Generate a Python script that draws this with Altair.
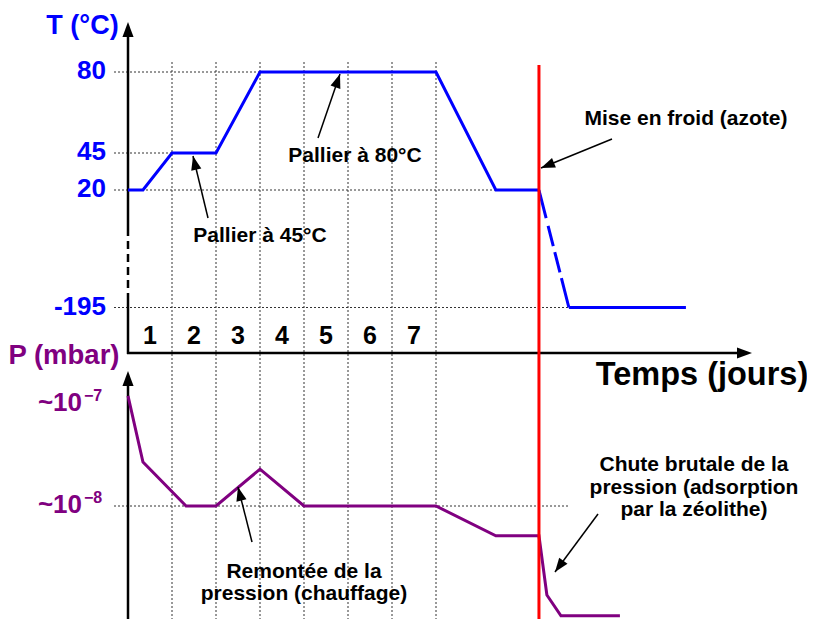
import math
import altair as alt
import pandas as pd

# ------------------------------------------------------------------ data
# Temperature (°C) versus time (days)
t_days = [0, 0.34, 1, 2, 3, 7, 8.36, 9.34]
t_vals = [20, 20, 45, 45, 80, 80, 20, 20]
t_cool_days = [9.34, 10.02]          # nitrogen cooling (dashed)
t_cool_vals = [20, -195]
t_cold_days = [10.02, 12.68]
t_cold_vals = [-195, -195]

# Pressure (mbar) versus time (days)
p_days = [0, 0.34, 1.32, 2, 3, 4, 7, 8.36, 9.34, 9.52, 9.84, 11.18]
p_vals = [1.2e-7, 2.7e-8, 1e-8, 1e-8, 2.3e-8, 1e-8, 1e-8, 5.1e-9, 5.1e-9,
          1.34e-9, 8.4e-10, 8.4e-10]

cooling_day = 9.34
day_numbers = [1, 2, 3, 4, 5, 6, 7]
day_labels = ["1", "2", "3", "4", "5", "6", "7"]

t_ticks = [80, 45, 20, -195]
t_tick_labels = ["80", "45", "20", "-195"]
t_grid_end = [7, 2, 9.34, 10.02]

p_ticks = [1e-7, 1e-8]
p_tick_base = ["~10", "~10"]
p_tick_exp = ["\u22127", "\u22128"]
p_grid_end = [10.02]

# ------------------------------------------------------------------ layout
W, H = 799, 611
PAGE = 8            # page offset of the plot origin
DAY0 = 128          # page x of day 0
PX_DAY = 44         # pixels per day
GRID_START = (114 - DAY0) / PX_DAY
BOTTOM = PAGE + H

BLUE = "#0000ff"
PURPLE = "#800080"
RED = "#ff0000"
FONT = "Liberation Sans"

XD = alt.Scale(domain=[(PAGE - DAY0) / PX_DAY, (PAGE + W - DAY0) / PX_DAY],
               nice=False, zero=False)
TS = alt.Scale(domain=[-195, 20, 45, 80],
               range=[307.5 - PAGE, 190 - PAGE, 153 - PAGE, 72 - PAGE],
               nice=False, zero=False)
PS = alt.Scale(type="log", domain=[1e-8, 1e-7],
               range=[506 - PAGE, 404 - PAGE], nice=False)
PXX = alt.Scale(domain=[PAGE, PAGE + W], nice=False, zero=False)
PXY = alt.Scale(domain=[PAGE, PAGE + H], range=[0, H], nice=False, zero=False)

ARROW = "M0,0 L-0.37,1 L0.37,1 Z"   # tip at origin, pointing up

layers = []


def line(days, vals, scale, color, dash=None):
    df = pd.DataFrame({"day": days, "v": vals, "o": list(range(len(days)))})
    kw = dict(color=color, strokeWidth=3, strokeJoin="miter")
    if dash:
        kw["strokeDash"] = dash
    return alt.Chart(df).mark_line(**kw).encode(
        x=alt.X("day:Q", scale=XD, axis=None),
        y=alt.Y("v:Q", scale=scale, axis=None),
        order="o:Q")


def prules(rows, width=2.5, dash=None, color="black"):
    df = pd.DataFrame(rows, columns=["x0", "y0", "x1", "y1"])
    kw = dict(color=color, strokeWidth=width, strokeCap="butt")
    if dash:
        kw["strokeDash"] = dash
    return alt.Chart(df).mark_rule(**kw).encode(
        x=alt.X("x0:Q", scale=PXX, axis=None), x2="x1:Q",
        y=alt.Y("y0:Q", scale=PXY, axis=None), y2="y1:Q")


def heads(rows, size=900):
    df = pd.DataFrame(rows, columns=["x", "y", "ang"])
    return alt.Chart(df).mark_point(shape=ARROW, filled=True, color="black",
                                    opacity=1, size=size, strokeWidth=0).encode(
        x=alt.X("x:Q", scale=PXX, axis=None),
        y=alt.Y("y:Q", scale=PXY, axis=None),
        angle=alt.Angle("ang:Q", scale=None))


def ptext(rows, size, color="black", align="center"):
    df = pd.DataFrame(rows, columns=["t", "x", "y"])
    return alt.Chart(df).mark_text(font=FONT, fontWeight="bold", fontSize=size,
                                   color=color, align=align,
                                   baseline="alphabetic").encode(
        x=alt.X("x:Q", scale=PXX, axis=None),
        y=alt.Y("y:Q", scale=PXY, axis=None),
        text="t:N")


# ---- grid (dotted)
vgrid = pd.DataFrame({"day": day_numbers})
layers.append(alt.Chart(vgrid).mark_rule(color="#333", strokeWidth=1,
                                         strokeDash=[2, 2]).encode(
    x=alt.X("day:Q", scale=XD, axis=None),
    y=alt.value(62 - PAGE), y2=alt.value(H)))

tgrid = pd.DataFrame({"v": t_ticks, "s": [GRID_START] * 4, "e": t_grid_end})
layers.append(alt.Chart(tgrid).mark_rule(color="#333", strokeWidth=1,
                                         strokeDash=[2, 2]).encode(
    x=alt.X("s:Q", scale=XD, axis=None), x2="e:Q",
    y=alt.Y("v:Q", scale=TS, axis=None)))

pgrid = pd.DataFrame({"v": [1e-8], "s": [GRID_START], "e": p_grid_end})
layers.append(alt.Chart(pgrid).mark_rule(color="#333", strokeWidth=1,
                                         strokeDash=[2, 2]).encode(
    x=alt.X("s:Q", scale=XD, axis=None), x2="e:Q",
    y=alt.Y("v:Q", scale=PS, axis=None)))

# ---- axes (drawn as arrows)
layers.append(prules([(128, 36, 128, 228), (128, 298, 128, 354),
                      (128, 384, 128, BOTTOM), (127, 353, 738, 353)]))
layers.append(prules([(128, 228, 128, 298)], dash=[8, 5]))
layers.append(heads([(128, 22, 0), (128, 371, 0), (752, 353, 90)], size=900))

# ---- series
layers.append(line(t_days, t_vals, TS, BLUE))
layers.append(line(t_cool_days, t_cool_vals, TS, BLUE,
                   dash=[29, 8, 21, 6, 21, 6, 100, 10]))
layers.append(line(t_cold_days, t_cold_vals, TS, BLUE))
layers.append(line(p_days, p_vals, PS, PURPLE))

# ---- cooling start (red line)
layers.append(alt.Chart(pd.DataFrame({"day": [cooling_day]})).mark_rule(
    color=RED, strokeWidth=3).encode(
    x=alt.X("day:Q", scale=XD, axis=None),
    y=alt.value(65 - PAGE), y2=alt.value(H)))

# ---- tick labels
tl = pd.DataFrame({"v": t_ticks, "t": t_tick_labels})
layers.append(alt.Chart(tl).mark_text(font=FONT, fontWeight="bold", fontSize=26,
                                      color=BLUE, align="right",
                                      baseline="alphabetic", dy=7).encode(
    x=alt.value(106 - PAGE), y=alt.Y("v:Q", scale=TS, axis=None), text="t:N"))

pl = pd.DataFrame({"v": p_ticks, "b": p_tick_base, "e": p_tick_exp})
layers.append(alt.Chart(pl).mark_text(font=FONT, fontWeight="bold", fontSize=26,
                                      color=PURPLE, align="right",
                                      baseline="alphabetic", dy=7).encode(
    x=alt.value(82 - PAGE), y=alt.Y("v:Q", scale=PS, axis=None), text="b:N"))
layers.append(alt.Chart(pl).mark_text(font=FONT, fontWeight="bold", fontSize=16,
                                      color=PURPLE, align="left",
                                      baseline="alphabetic", dy=-3).encode(
    x=alt.value(84 - PAGE), y=alt.Y("v:Q", scale=PS, axis=None), text="e:N"))

dl = pd.DataFrame({"c": [d - 0.5 for d in day_numbers], "t": day_labels})
layers.append(alt.Chart(dl).mark_text(font=FONT, fontWeight="bold", fontSize=25,
                                      color="black", baseline="alphabetic").encode(
    x=alt.X("c:Q", scale=XD, axis=None), y=alt.value(344 - PAGE), text="t:N"))

# ---- titles
layers.append(ptext([("T (°C)", 82.5, 34)], 27, BLUE))
layers.append(ptext([("P (mbar)", 64, 364)], 27.5, PURPLE))
layers.append(ptext([("Temps (jours)", 702, 385)], 32.5))

# ---- annotations
notes = [
    ("Pallier à 80°C", 355, 162),
    ("Pallier à 45°C", 260, 242),
    ("Mise en froid (azote)", 686, 125),
    ("Remontée de la", 304, 578),
    ("pression (chauffage)", 304, 600),
    ("Chute brutale de la", 694, 471),
    ("pression (adsorption", 694, 493.5),
    ("par la zéolithe)", 694, 516),
]
layers.append(ptext(notes, 21))

arrows = [
    (318, 138, 340, 74),
    (208, 218, 193, 156),
    (612, 139, 541, 168),
    (252, 542, 238, 487),
    (598, 514, 555, 572),
]
layers.append(prules(arrows, width=1.5))
head_rows = []
for x0, y0, x1, y1 in arrows:
    ang = math.degrees(math.atan2(x1 - x0, -(y1 - y0))) % 360
    head_rows.append((x1, y1, ang))
layers.append(heads(head_rows, size=784))

chart = alt.layer(*layers).resolve_scale(
    x="independent", y="independent"
).properties(
    width=W, height=H, padding=0,
    autosize=alt.AutoSizeParams(type="none"), background="white"
).configure_view(stroke=None)

chart.save("out.html", embed_options={"renderer": "svg", "actions": False})
